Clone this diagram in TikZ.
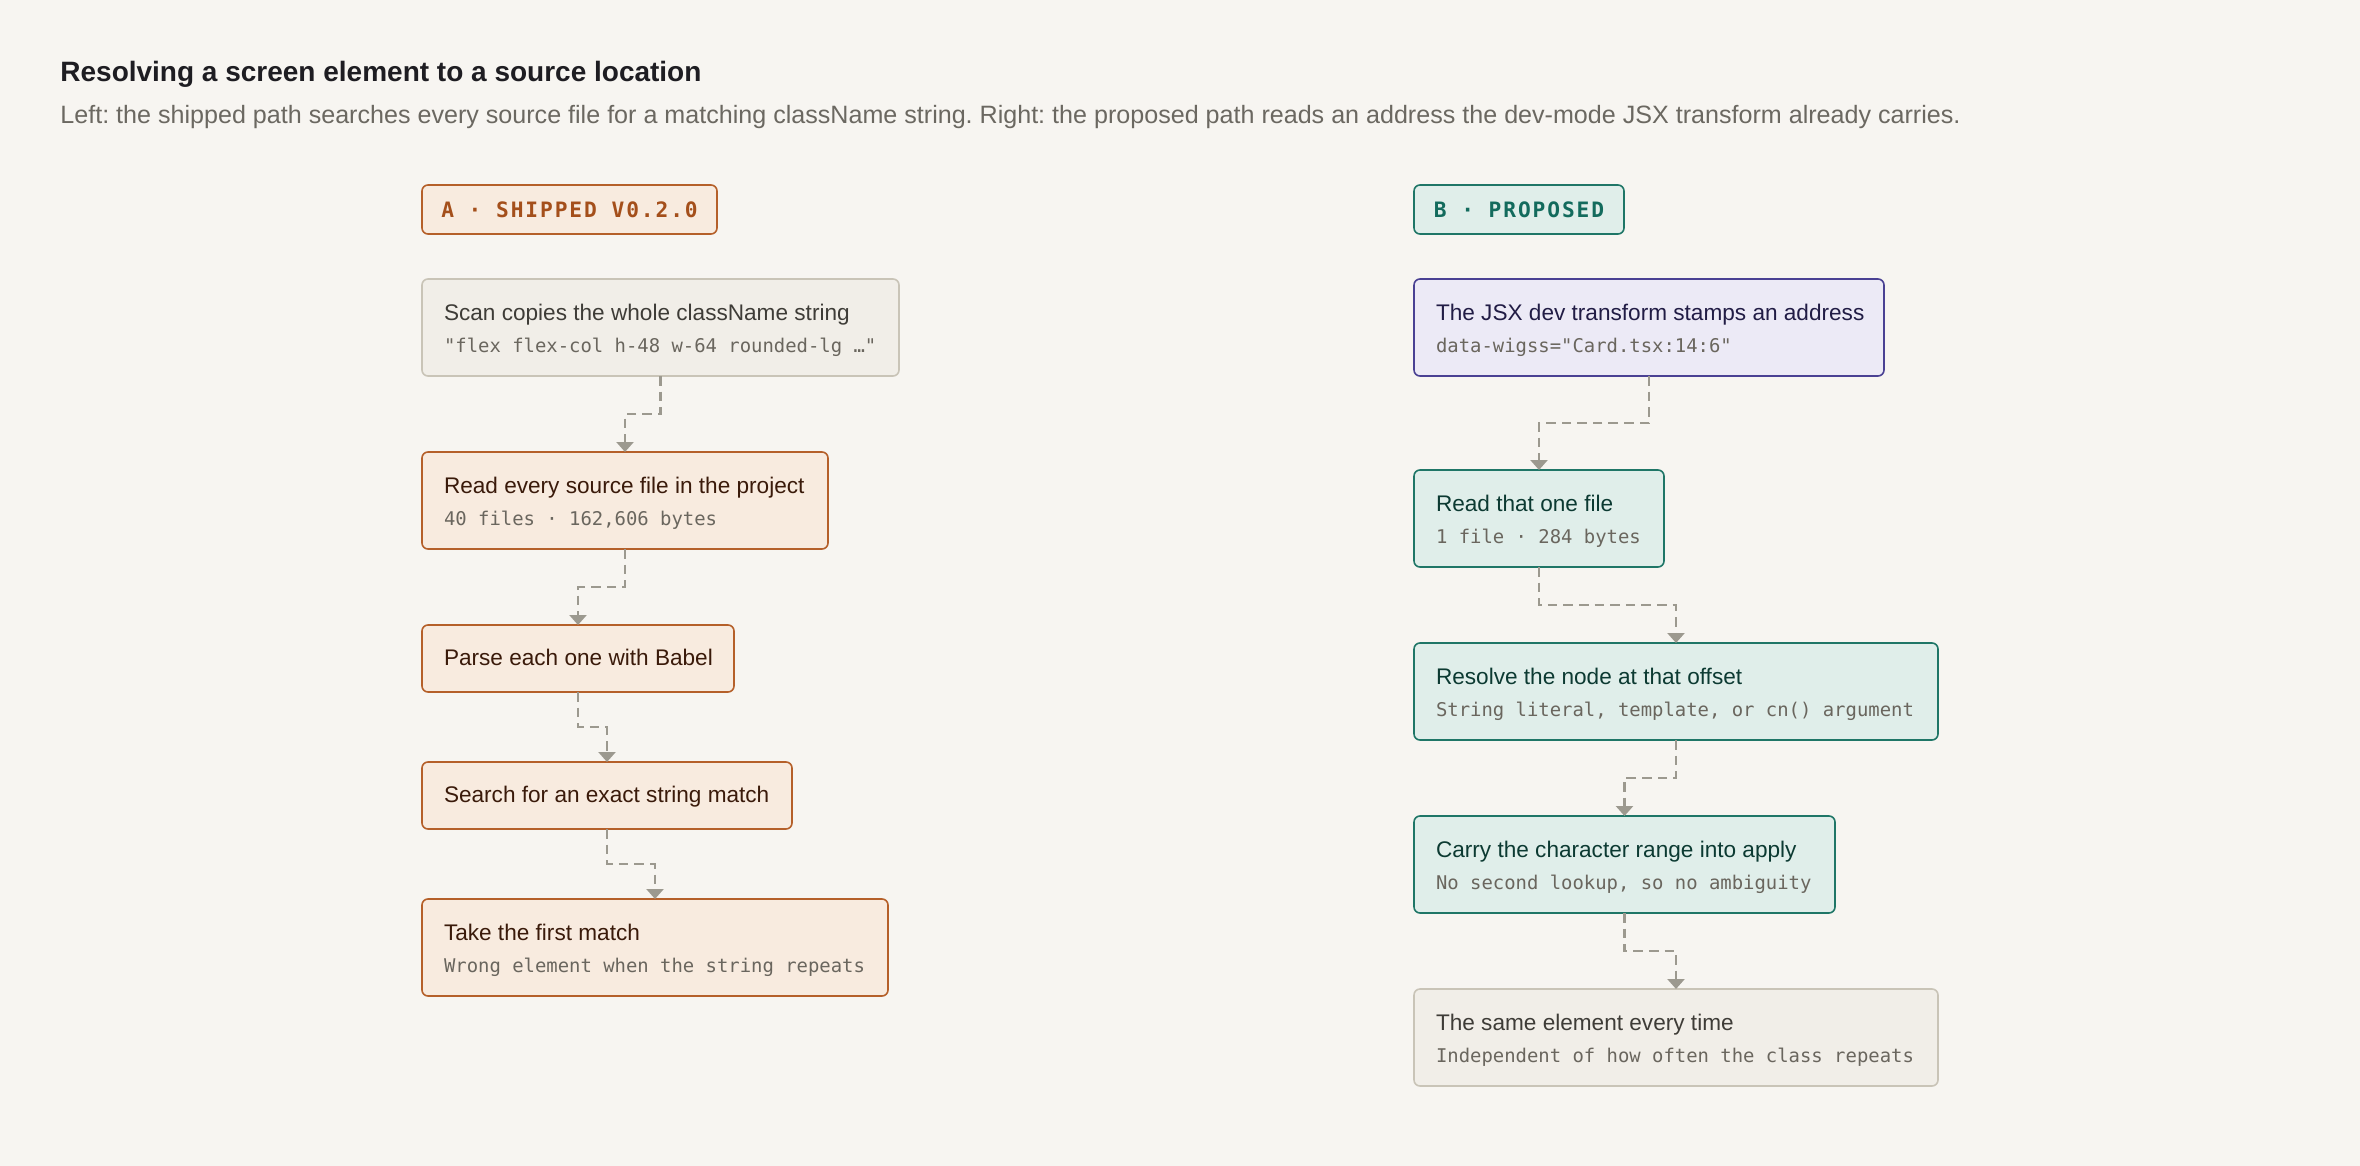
\documentclass[tikz,border=0pt]{standalone}
\usepackage{fontspec}
\setmainfont{Liberation Sans}
\setmonofont{DejaVu Sans Mono}
\newfontfamily\labelfont[LetterSpace=9]{DejaVu Sans Mono}
\usetikzlibrary{arrows.meta,calc}
\definecolor{bg}{HTML}{F7F5F1}
\definecolor{ink}{HTML}{1E1D22}
\definecolor{subink}{HTML}{6B6861}
\definecolor{monoink}{HTML}{6A665E}
\definecolor{conn}{HTML}{9C998F}
\definecolor{neuFill}{HTML}{F1EEE8}
\definecolor{neuDraw}{HTML}{C9C4B7}
\definecolor{neuText}{HTML}{3E3C37}
\definecolor{orFill}{HTML}{F8EBDF}
\definecolor{orDraw}{HTML}{B5602A}
\definecolor{orText}{HTML}{3A1A0A}
\definecolor{orLabel}{HTML}{A44F1B}
\definecolor{puFill}{HTML}{ECEAF6}
\definecolor{puDraw}{HTML}{4A4193}
\definecolor{puText}{HTML}{211C45}
\definecolor{teFill}{HTML}{E0EEEA}
\definecolor{teDraw}{HTML}{1F7667}
\definecolor{teText}{HTML}{0C3A32}
\definecolor{teLabel}{HTML}{136B5D}
\newcommand{\sub}[1]{\mbox{\ttfamily\fontsize{9.45pt}{16.35pt}\selectfont\color{monoink}#1}}
\newcommand{\hd}[1]{\mbox{\rule{0pt}{11pt}#1}}
\tikzset{
  box/.style={draw, rounded corners=3pt, line width=0.8pt, anchor=north west,
    inner xsep=11pt, inner ysep=0pt, outer sep=0pt, align=left,
    font=\fontsize{11.3pt}{16.35pt}\selectfont,
    execute at begin node={\spaceskip=0pt\xspaceskip=0pt\relax}},
  two/.style={minimum height=48.5pt},
  one/.style={minimum height=33.5pt, text height=9.3pt, text depth=2.5pt},
  neu/.style={box, fill=neuFill, draw=neuDraw, text=neuText},
  ora/.style={box, fill=orFill, draw=orDraw, text=orText},
  pur/.style={box, fill=puFill, draw=puDraw, text=puText},
  tea/.style={box, fill=teFill, draw=teDraw, text=teText},
  tag/.style={draw, rounded corners=3pt, line width=0.8pt, anchor=north west,
    inner sep=0pt, outer sep=0pt, minimum height=24.5pt, align=center,
    font=\labelfont\bfseries\fontsize{10.6pt}{12pt}\selectfont},
  link/.style={draw=conn, line width=1.25pt, dash pattern=on 4.8pt off 3pt,
    -{Triangle[width=8.5pt,length=5pt]}, color=conn},
}
\begin{document}
\begin{tikzpicture}[x=0.5pt,y=-0.5pt]
\fill[bg] (0,0) rectangle (2360,1166);
\useasboundingbox (0,0) rectangle (2360,1166);
% titles
\node[anchor=base west, inner sep=0pt, text=ink, font=\bfseries\fontsize{14pt}{16pt}\selectfont] (title) at (60,82)
  {Resolving a screen element to a source location};
\node[anchor=base west, inner sep=0pt, text=subink, font=\frenchspacing\fontsize{12.55pt}{14pt}\selectfont] (subtitle) at (60,124)
  {Left: the shipped path searches every source file for a matching className string. Right: the proposed path reads an address the dev-mode JSX transform already carries.};
% labels
\node[tag, fill=orFill, draw=orDraw, text=orLabel, minimum width=147.5pt] (labA) at (422,185) {A · SHIPPED V0.2.0};
\node[tag, fill=teFill, draw=teDraw, text=teLabel, minimum width=105pt] (labB) at (1414,185) {B · PROPOSED};
% left column
\node[neu, two, text width=216.5pt] (scan) at (422,279)
  {\hd{Scan copies the whole className string}\\\sub{"flex flex-col h-48 w-64 rounded-lg …"}};
\node[ora, two, text width=181pt] (read) at (422,452)
  {\hd{Read every source file in the project}\\\sub{40 files · 162,606 bytes}};
\node[ora, one, text width=134pt] (parse) at (422,625)
  {\hd{Parse each one with Babel}};
\node[ora, one, text width=163pt] (search) at (422,762)
  {\hd{Search for an exact string match}};
\node[ora, two, text width=211pt] (take) at (422,899)
  {\hd{Take the first match}\\\sub{Wrong element when the string repeats}};
% right column
\node[pur, two, text width=213pt] (jsx) at (1414,279)
  {\hd{The JSX dev transform stamps an address}\\\sub{data-wigss="Card.tsx:14:6"}};
\node[tea, two, text width=103pt] (one) at (1414,470)
  {\hd{Read that one file}\\\sub{1 file · 284 bytes}};
\node[tea, two, text width=240pt] (resolve) at (1414,643)
  {\hd{Resolve the node at that offset}\\\sub{String literal, template, or cn() argument}};
\node[tea, two, text width=188.5pt] (carry) at (1414,816)
  {\hd{Carry the character range into apply}\\\sub{No second lookup, so no ambiguity}};
\node[neu, two, text width=240pt] (same) at (1414,989)
  {\hd{The same element every time}\\\sub{Independent of how often the class repeats}};
% connectors
\foreach \a/\b in {scan/read, read/parse, parse/search, search/take,
                   jsx/one, one/resolve, resolve/carry, carry/same}{
  \draw[link] (\a.south) |- ($(\a.south)!0.5!(\b.north)$) -| (\b.north);
}
\end{tikzpicture}
\end{document}
